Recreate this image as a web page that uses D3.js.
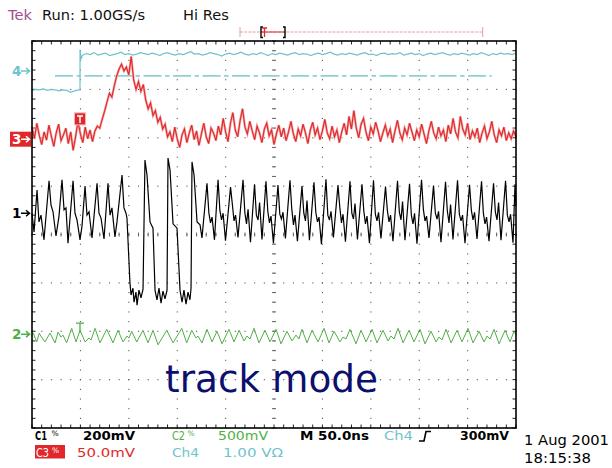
<!DOCTYPE html>
<html><head><meta charset="utf-8">
<script src="https://cdn.jsdelivr.net/npm/d3@7"></script>
<style>
html,body{margin:0;padding:0;background:#fff;}
svg{display:block;}
text{font-family:"DejaVu Sans",sans-serif;}
</style></head><body>
<svg id="scope" width="612" height="468"></svg>
<script>
// ---------- acquisition settings ----------
const timeDomainNs = [0, 500];        // 10 divisions x 50 ns
const levelDomainDiv = [-4, 4];       // 8 vertical divisions
const majorTimeNs = d3.range(0, 501, 50);
const minorTimeNs = d3.range(0, 501, 10);
const majorLevelDiv = d3.range(-4, 4.01, 1);
const minorLevelDiv = d3.range(-4, 4.01, 0.2);

// channel ground markers (divisions)
const groundMarks = [
  {ch: "4", level: 3.38, color: "#6fc4cc", boxed: false},
  {ch: "3", level: 1.97, color: "#e0282a", boxed: true},
  {ch: "1", level: 0.44, color: "#000000", boxed: false},
  {ch: "2", level: -2.06, color: "#4fb043", boxed: false}
];

// trigger
const triggerTimeNs = 49.6;
const ch3TriggerLevel = 2.39;
const ch2TriggerLevel = -1.83;
const ch4TriggerLevel = 3.28;
const ch4TriggerSpanNs = [23.8, 475];

// ---------- Ch1 (black) : [ns, div] ----------
const ch1Trace = [
[0,0.44],[2.1,0.05],[5.2,0.92],[7.2,0.26],[9.3,0.40],[12.4,-0.11],[17.6,1.11],[19.6,0.61],[21.7,0.47],[24.8,-0.03],
[27.9,0.38],[31.0,1.13],[33.1,0.51],[35.1,0.55],[37.2,-0.18],[42.4,1.11],[44.4,0.44],[46.5,0.30],[49.6,-0.11],[51.7,0.18],
[54.8,1.00],[56.8,0.40],[58.9,0.47],[62.0,-0.07],[67.2,1.06],[69.2,0.44],[71.3,0.34],[74.4,-0.09],[78.5,1.06],[80.6,0.40],
[82.6,0.55],[85.7,-0.05],[87.8,0.26],[93.0,1.23],[95.0,0.55],[97.1,0.44],[98.1,0.34],[101.2,-1.00],[102.3,-1.25],[104.3,-1.11],
[105.4,-1.40],[107.4,-1.19],[108.5,-1.46],[110.5,-1.15],[112.6,-1.31],[114.7,-1.13],[116.7,1.54],[118.8,1.23],[121.9,0.26],[125.0,0.13],
[127.1,-1.15],[129.1,-1.35],[131.2,-1.11],[133.3,-1.42],[135.3,-1.17],[137.4,-1.33],[139.5,-1.15],[140.5,1.58],[142.6,1.33],[145.7,0.22],
[149.8,0.13],[152.9,-1.15],[155.0,-1.40],[157.0,-1.15],[159.1,-1.44],[161.2,-1.19],[163.2,-1.35],[164.3,-1.11],[165.3,1.50],[167.4,1.23],
[170.5,0.26],[173.6,0.20],[175.6,-0.07],
[180.8,1.06],[182.7,0.45],[184.4,0.24],[186.0,0.36],[188.5,-0.11],
[192.2,1.13],[194.1,0.50],[195.8,0.30],[197.4,0.44],[199.9,-0.13],
[205.1,0.98],[207.0,0.62],[208.7,0.28],[210.3,0.40],[212.8,-0.06],
[218.0,1.13],[219.9,0.45],[221.6,0.22],[223.2,0.52],[225.7,-0.16],
[229.9,1.04],[231.8,0.40],[233.5,0.30],[235.1,0.66],[237.6,-0.10],
[241.7,1.10],[243.6,0.48],[245.3,0.24],[246.9,0.38],[249.4,-0.18],
[254.1,1.02],[256.0,0.42],[257.7,0.32],[259.3,0.46],[261.8,-0.08],
[266.5,1.12],[268.4,0.52],[270.1,0.20],[271.7,0.40],[274.2,-0.14],
[278.9,1.00],[280.8,0.44],[282.5,0.28],[284.1,0.70],[286.6,-0.12],
[291.3,1.08],[293.2,0.46],[294.9,0.26],[296.5,0.36],[299.0,-0.20],
[303.7,1.14],[305.6,0.40],[307.3,0.30],[308.9,0.48],[311.4,-0.06],
[316.1,1.02],[318.0,0.56],[319.7,0.24],[321.3,0.42],[323.8,-0.15],
[328.5,1.10],[330.4,0.44],[332.1,0.32],[333.7,0.64],[336.2,-0.10],
[340.9,1.04],[342.8,0.48],[344.5,0.22],[346.1,0.38],[348.6,-0.18],
[352.8,1.12],[354.7,0.42],[356.4,0.28],[358.0,0.46],[360.5,-0.08],
[365.2,0.99],[367.1,0.50],[368.8,0.26],[370.4,0.40],[372.9,-0.14],
[377.6,1.11],[379.5,0.46],[381.2,0.30],[382.8,0.68],[385.3,-0.12],
[390.0,1.05],[391.9,0.40],[393.6,0.22],[395.2,0.44],[397.7,-0.19],
[402.4,1.13],[404.3,0.52],[406.0,0.28],[407.6,0.38],[410.1,-0.07],
[414.8,1.01],[416.7,0.44],[418.4,0.32],[420.0,0.48],[422.5,-0.16],
[427.2,1.09],[429.1,0.48],[430.8,0.24],[432.4,0.62],[434.9,-0.10],
[439.6,1.12],[441.5,0.42],[443.2,0.28],[444.8,0.40],[447.3,-0.18],
[452.0,1.03],[453.9,0.50],[455.6,0.30],[457.2,0.46],[459.7,-0.09],
[464.4,1.10],[466.3,0.44],[468.0,0.22],[469.6,0.36],[472.1,-0.14],
[476.8,1.06],[478.7,0.46],[480.4,0.30],[482.0,0.66],[484.5,-0.12],
[489.2,1.11],[491.1,0.40],[492.8,0.26],[494.4,0.42],[496.9,-0.17],
[499.0,1.04],[500,0.60]
];

// ---------- Ch2 (green) : [ns, div] ----------
const ch2Trace = [
[0,-2.06],[1.3,-2.04],[4.9,-2.22],[7.5,-2.04],[9.8,-2.12],[13.4,-2.22],[18.6,-2.04],[23.8,-2.24],[26.9,-2.02],[30.0,-2.12],
[32.0,-2.08],[35.8,-2.24],[41.0,-1.94],[45.5,-2.22],[49.6,-1.98],[54.8,-2.22],[58.9,-2.14],[61.0,-2.18],[65.1,-1.94],[70.2,-2.24],
[77.2,-1.96],[83.7,-2.24],[88.8,-1.98],[94.0,-2.22],[98.1,-2.10],[100.2,-2.14],[103.0,-2.00],[108.2,-2.22],[114.7,-1.98],[119.8,-2.24],
[125.0,-1.98],[130.2,-2.28],[139.2,-1.98],[145.7,-2.24],[154.7,-1.94],[159.8,-2.24],[165.0,-1.98],[169.4,-2.14],[171.5,-2.10],[175.6,-2.24],
[180.8,-1.96],[186.0,-2.22],[191.1,-2.00],[196.3,-2.26],[203.5,-1.96],[208.7,-2.22],[213.9,-1.98],[219.0,-2.20],[222.1,-2.10],[225.2,-2.16],
[229.3,-1.94],[234.5,-2.24],[240.7,-1.98],[245.9,-2.22],[252.1,-1.96],[257.2,-2.26],[263.4,-2.00],[268.6,-2.20],[272.7,-2.08],[275.8,-2.16],
[278.9,-1.96],[284.1,-2.24],[289.3,-1.98],[295.5,-2.22],[301.7,-1.94],[306.8,-2.24],[312.0,-2.00],[318.2,-2.22],[321.3,-2.12],[324.4,-2.16],
[328.5,-1.96],[334.7,-2.26],[339.9,-1.98],[345.1,-2.22],[351.3,-1.96],[356.4,-2.24],[362.6,-1.98],[367.8,-2.20],[370.9,-2.10],[374.0,-2.16],
[378.1,-1.94],[383.3,-2.24],[389.5,-1.98],[394.6,-2.22],[400.8,-1.96],[406.0,-2.26],[412.2,-2.00],[417.4,-2.22],[420.5,-2.12],[423.6,-2.18],
[427.7,-1.96],[432.9,-2.24],[439.1,-1.98],[444.2,-2.22],[450.4,-1.94],[455.6,-2.24],[461.8,-2.00],[467.0,-2.22],[470.1,-2.10],[473.2,-2.16],
[477.3,-1.96],[482.5,-2.26],[488.7,-1.98],[493.8,-2.22],[498.0,-2.00],[500,-2.08]
];

// ---------- Ch3 (red) : one sample every 2.5 ns, in div ----------
const ch3SampleNs = 2.5;
const ch3Levels = [
2.22,1.98,2.30,2.05,1.86,2.12,1.95,2.26,2.03,1.82,
2.10,2.28,1.94,2.06,2.20,1.88,2.12,1.74,2.02,2.34,
2.08,1.90,2.22,1.98,2.16,1.92,2.14,2.24,
2.20,2.38,2.55,2.74,2.92,2.84,3.07,3.28,3.42,3.52,
3.38,3.46,3.30,3.68,3.20,3.00,3.16,2.96,3.10,2.78,
2.60,2.72,2.46,2.56,2.32,2.42,2.18,2.28,2.02,
2.12,1.92,2.22,1.98,1.80,2.06,2.18,1.90,2.10,2.26,
1.96,2.14,1.84,2.08,2.30,2.02,1.88,2.20,2.10,1.94,
2.24,2.06,2.40,2.12,1.92,2.30,2.52,2.16,2.02,2.36,
2.60,2.22,2.08,2.34,2.14,1.96,2.24,2.10,1.90,2.18,
2.30,2.04,2.16,1.86,2.08,2.26,2.02,2.20,1.94,2.12,
2.34,2.08,1.92,2.18,2.04,2.28,2.10,1.88,2.16,2.32,
2.06,2.20,1.96,2.14,2.38,2.10,1.98,2.24,2.02,2.16,
1.90,2.12,2.30,2.06,2.44,2.18,2.56,2.20,2.00,2.28,
2.40,2.12,1.94,2.22,2.08,2.32,2.14,1.92,2.10,2.26,
2.04,2.18,1.90,2.14,2.36,2.10,1.96,2.20,2.06,2.30,
2.12,1.94,2.16,2.02,2.28,2.08,1.88,2.14,2.34,2.10,
1.98,2.22,2.04,2.16,1.92,2.26,2.08,2.40,2.12,2.00,
2.44,2.18,2.06,2.30,1.96,2.14,2.02,2.20,1.90,2.10,
2.24,1.98,2.12,2.34,2.06,1.90,2.16,2.04,2.22,1.94,
2.10,1.98,2.14,2.02
];

// ---------- Ch4 (cyan) ----------
const ch4SampleNs = 4;
const ch4Low = [2.98,3.00,2.99,3.01,2.98,3.00,2.99,2.97,2.99,2.98,2.94,2.97,2.99];
const ch4Edge = [[49.6,2.99],[49.6,3.82],[50.6,3.62]];
const ch4HighStartNs = 52;
const ch4High = [
3.70,3.74,3.72,3.76,3.71,3.73,3.75,3.70,3.72,3.74,
3.77,3.72,3.74,3.71,3.73,3.76,3.74,3.72,3.75,3.73,
3.70,3.74,3.76,3.73,3.71,3.74,3.72,3.75,3.78,3.73,
3.74,3.71,3.73,3.76,3.74,3.72,3.69,3.73,3.75,3.72,
3.74,3.77,3.73,3.71,3.74,3.72,3.76,3.73,3.70,3.74,
3.72,3.75,3.73,3.71,3.74,3.76,3.72,3.74,3.73,3.70,
3.73,3.75,3.72,3.74,3.77,3.73,3.71,3.74,3.72,3.75,
3.73,3.71,3.74,3.76,3.72,3.73,3.70,3.74,3.75,3.72,
3.74,3.73,3.76,3.71,3.73,3.75,3.72,3.74,3.70,3.73,
3.75,3.72,3.74,3.76,3.73,3.71,3.74,3.72,3.75,3.73,
3.71,3.74,3.72,3.76,3.73,3.70,3.74,3.72,3.75,3.73,
3.74,3.72,3.75
];

// record-view bar and trigger point (screen px)
const recordSpan = [240, 482.7];
const viewBracket = [261, 285];
const triggerPosX = 264.5;

// ---------- drawing ----------
const svg = d3.select("#scope");
const x = d3.scaleLinear().domain(timeDomainNs).range([32, 516]);
const y = d3.scaleLinear().domain(levelDomainDiv).range([428, 41]);
const line = d3.line().x(d => x(d[0])).y(d => y(d[1]));

// graticule: dotted lines on major divisions
const grid = svg.append("g");
majorTimeNs.slice(1, -1).forEach(t => {
  minorLevelDiv.forEach(v => grid.append("rect").attr("x", x(t) - 0.5).attr("y", y(v) - 0.5)
    .attr("width", 1.1).attr("height", 1.1).attr("fill", "#555"));
});
majorLevelDiv.slice(1, -1).forEach(v => {
  minorTimeNs.forEach(t => grid.append("rect").attr("x", x(t) - 0.5).attr("y", y(v) - 0.5)
    .attr("width", 1.1).attr("height", 1.1).attr("fill", "#555"));
});
// edge ticks and centre cross ticks
minorTimeNs.forEach(t => {
  grid.append("line").attr("x1", x(t)).attr("x2", x(t)).attr("y1", y(4)).attr("y2", y(4) + 3.5).attr("stroke", "#222");
  grid.append("line").attr("x1", x(t)).attr("x2", x(t)).attr("y1", y(-4)).attr("y2", y(-4) - 3.5).attr("stroke", "#222");
  grid.append("line").attr("x1", x(t)).attr("x2", x(t)).attr("y1", y(0) - 2).attr("y2", y(0) + 2).attr("stroke", "#666");
});
minorLevelDiv.forEach(v => {
  grid.append("line").attr("x1", x(0)).attr("x2", x(0) + 3.5).attr("y1", y(v)).attr("y2", y(v)).attr("stroke", "#222");
  grid.append("line").attr("x1", x(500)).attr("x2", x(500) - 3.5).attr("y1", y(v)).attr("y2", y(v)).attr("stroke", "#222");
  grid.append("line").attr("x1", x(250) - 2).attr("x2", x(250) + 2).attr("y1", y(v)).attr("y2", y(v)).attr("stroke", "#666");
});

// Ch4 trigger level (dash-dot)
svg.append("line").attr("x1", x(ch4TriggerSpanNs[0])).attr("x2", x(ch4TriggerSpanNs[1]))
  .attr("y1", y(ch4TriggerLevel)).attr("y2", y(ch4TriggerLevel))
  .attr("stroke", "#8dd0d8").attr("stroke-width", 1.8).attr("stroke-dasharray", "18,3.5,4.5,3.5");

// traces
const ch4Data = ch4Low.map((v, i) => [i * ch4SampleNs, v])
  .concat(ch4Edge)
  .concat(ch4High.map((v, i) => [ch4HighStartNs + i * ch4SampleNs, v]));
svg.append("path").attr("d", line(ch4Data)).attr("fill", "none").attr("stroke", "#6fc4cc").attr("stroke-width", 1.2);

const ch3Data = ch3Levels.map((v, i) => [i * ch3SampleNs, v]);
svg.append("path").attr("d", line(ch3Data)).attr("fill", "none").attr("stroke", "#f2a8a8").attr("stroke-width", 2.4);
svg.append("path").attr("d", line(ch3Data)).attr("fill", "none").attr("stroke", "#e0282a").attr("stroke-width", 1.1);

svg.append("path").attr("d", line(ch1Trace)).attr("fill", "none").attr("stroke", "#000").attr("stroke-width", 1.2);

svg.append("path").attr("d", line(ch2Trace)).attr("fill", "none").attr("stroke", "#4fb043").attr("stroke-width", 1);

// frame
svg.append("rect").attr("x", x(0)).attr("y", y(4)).attr("width", x(500) - x(0)).attr("height", y(-4) - y(4))
  .attr("fill", "none").attr("stroke", "#000").attr("stroke-width", 1.6);

// ground markers
groundMarks.forEach(m => {
  const yy = y(m.level);
  const fg = m.boxed ? "#fff" : m.color;
  if (m.boxed) svg.append("rect").attr("x", 10).attr("y", yy - 7.5).attr("width", 21).attr("height", 15).attr("fill", m.color);
  svg.append("text").attr("x", 12).attr("y", yy + 5).attr("font-size", 13.5).attr("font-weight", "bold").attr("fill", fg).text(m.ch);
  svg.append("path").attr("d", `M21,${yy}H29.5M26,${yy - 3}L29.5,${yy}L26,${yy + 3}`)
    .attr("fill", "none").attr("stroke", fg).attr("stroke-width", 1.5);
});

// trigger markers
const tx = x(triggerTimeNs);
const ty3 = y(ch3TriggerLevel);
svg.append("rect").attr("x", tx - 5.5).attr("y", ty3 - 6).attr("width", 11).attr("height", 12)
  .attr("fill", "#e0282a").attr("stroke", "#f4b4b4").attr("stroke-width", 1);
svg.append("path").attr("d", `M${tx - 3},${ty3 - 3}H${tx + 3}M${tx},${ty3 - 3}V${ty3 + 4}`)
  .attr("stroke", "#fff").attr("stroke-width", 1.5).attr("fill", "none");
const ty2 = y(ch2TriggerLevel);
svg.append("path").attr("d", `M${tx - 4},${ty2}H${tx + 4}M${tx},${ty2}V${ty2 + 10}`)
  .attr("stroke", "#4fb043").attr("stroke-width", 1.3).attr("fill", "none");

// record bar at the top
svg.append("line").attr("x1", recordSpan[0]).attr("x2", recordSpan[1]).attr("y1", 32).attr("y2", 32)
  .attr("stroke", "#eb9c9c").attr("stroke-width", 1).attr("stroke-dasharray", "3,1.2");
svg.append("line").attr("x1", viewBracket[0]).attr("x2", viewBracket[1]).attr("y1", 32).attr("y2", 32)
  .attr("stroke", "#e0282a").attr("stroke-width", 1);
[recordSpan[0], recordSpan[1]].forEach(px => svg.append("line").attr("x1", px).attr("x2", px)
  .attr("y1", 27).attr("y2", 37).attr("stroke", "#eb9c9c"));
svg.append("path").attr("d", `M${viewBracket[0] + 2},27H${viewBracket[0]}V37.5H${viewBracket[0] + 2}M${viewBracket[1] - 2},27H${viewBracket[1]}V37.5H${viewBracket[1] - 2}`)
  .attr("fill", "none").attr("stroke", "#000").attr("stroke-width", 1.4);
svg.append("path").attr("d", `M${triggerPosX - 2.5},28H${triggerPosX + 2.5}M${triggerPosX},28V37`)
  .attr("fill", "none").attr("stroke", "#e0282a").attr("stroke-width", 1.3);

// header text
svg.append("text").attr("x", 8).attr("y", 19.5).attr("font-size", 14.6).attr("fill", "#a24f8d").text("Tek");
svg.append("text").attr("x", 42).attr("y", 19.5).attr("font-size", 14.6).attr("fill", "#111").text("Run: 1.00GS/s");
svg.append("text").attr("x", 183).attr("y", 19.5).attr("font-size", 14.6).attr("fill", "#111").text("Hi Res");

// status line
const status = [
  {s: "C1", x: 35, y: 440, w: 12, c: "#000"},
  {s: "200mV", x: 83, y: 440, w: 52, c: "#000"},
  {s: "C2", x: 172, y: 440, w: 13, c: "#4fb043"},
  {s: "500mV", x: 218, y: 440, w: 50, c: "#4fb043"},
  {s: "M 50.0ns", x: 300, y: 440, w: 69, c: "#000"},
  {s: "Ch4", x: 384, y: 440, w: 29, c: "#6fc4cc"},
  {s: "300mV", x: 460, y: 440, w: 49, c: "#000"},
  {s: "C3", x: 36, y: 456.5, w: 13, c: "#fff"},
  {s: "50.0mV", x: 77, y: 456.5, w: 58, c: "#e0282a"},
  {s: "Ch4", x: 172, y: 456.5, w: 27, c: "#6fc4cc"},
  {s: "1.00 V\u03A9", x: 223, y: 456.5, w: 60, c: "#6fc4cc"}
];
svg.append("rect").attr("x", 35).attr("y", 445).attr("width", 30).attr("height", 13.5).attr("fill", "#e0282a");
status.forEach(d => svg.append("text").attr("x", d.x).attr("y", d.y).attr("font-size", 12.5)
  .attr("font-weight", d.c === "#000" ? "bold" : "normal")
  .attr("fill", d.c).attr("textLength", d.w).attr("lengthAdjust", "spacingAndGlyphs").text(d.s));
// coupling glyphs
[[51.5, 436, "#000"], [187.5, 436, "#4fb043"], [52, 453, "#fff"]].forEach(g =>
  svg.append("text").attr("x", g[0]).attr("y", g[1]).attr("font-size", 7.5).attr("fill", g[2]).text("%"));
// trigger slope symbol
svg.append("path").attr("d", "M419,441H424L426,431.5H431").attr("fill", "none").attr("stroke", "#000").attr("stroke-width", 1.6);

// date / time
svg.append("text").attr("x", 524).attr("y", 445).attr("font-size", 13.5).attr("fill", "#000")
  .attr("textLength", 85).attr("lengthAdjust", "spacingAndGlyphs").text("1 Aug 2001");
svg.append("text").attr("x", 524).attr("y", 463).attr("font-size", 13.5).attr("fill", "#000")
  .attr("textLength", 67).attr("lengthAdjust", "spacingAndGlyphs").text("18:15:38");

// annotation
svg.append("text").attr("x", 165).attr("y", 392).attr("font-size", 37).attr("fill", "#0d0f6f")
  .attr("textLength", 213).attr("lengthAdjust", "spacingAndGlyphs").text("track mode");
</script>
</body></html>
